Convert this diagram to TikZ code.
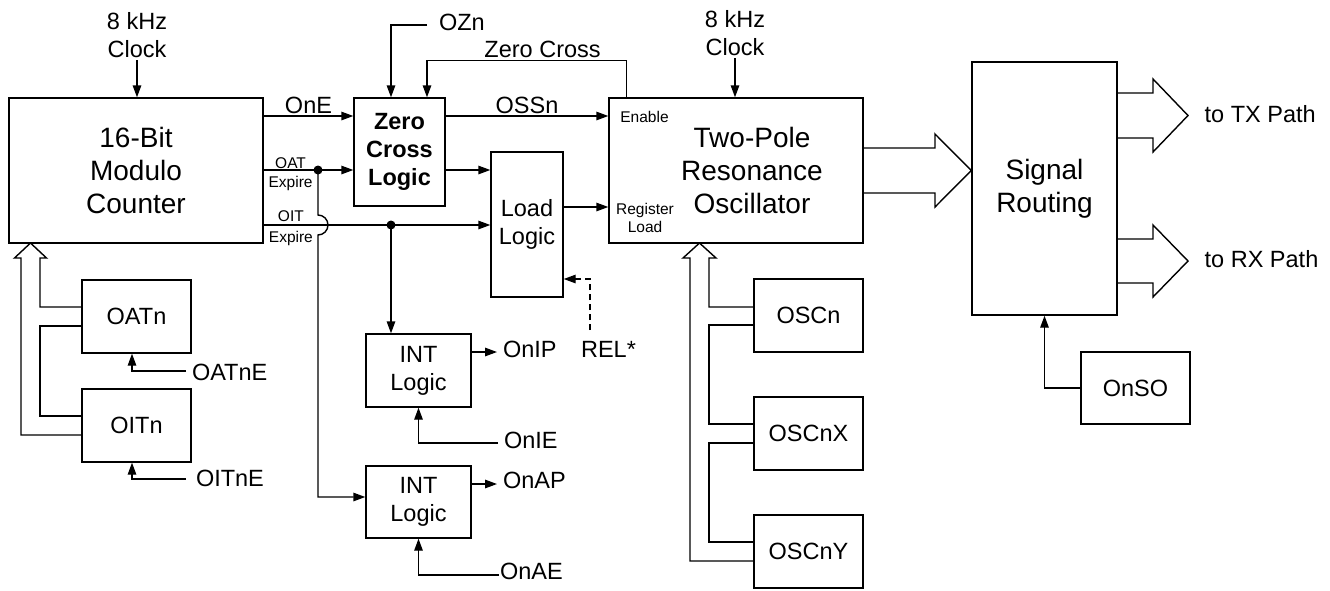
\documentclass[tikz,border=0pt]{standalone}
\usepackage{fontspec}
\setmainfont{Liberation Sans}
\usetikzlibrary{arrows.meta}

\newcommand{\blkbig}{\fontsize{28}{33}\selectfont}
\newcommand{\blkmed}{\fontsize{23.5}{28}\selectfont}
\newcommand{\blksmall}{\fontsize{15.5}{18.5}\selectfont}

\begin{document}
\begin{tikzpicture}[
        x=1pt, y=-1pt,
        line width=1.4pt,
        blk/.style={draw, rectangle, inner sep=0pt, align=center, font=\blkmed},
        bigtxt/.style={align=center, font=\blkbig},
        medtxt/.style={align=center, font=\blkmed, inner sep=2pt},
        smalltxt/.style={align=center, font=\blksmall, inner sep=1pt},
        endlbl/.style={font=\blkmed, inner sep=0pt, outer sep=6pt, anchor=west},
        sig/.style={-{Triangle[length=12pt,width=8.5pt]}},
        bus/.style={line join=miter},
        dot/.style={circle, fill, inner sep=0pt, minimum size=9pt},
    ]
    \useasboundingbox (0,0) rectangle (1330,590);

    \node[blk, minimum width=254pt, minimum height=145pt, font=\blkbig] (counter) at (136,170.5) {16-Bit\\Modulo\\Counter};
    \node[blk, minimum width=91pt, minimum height=108pt, font=\blkmed\bfseries] (zc) at (399.5,152) {Zero\\Cross\\Logic};
    \node[blk, minimum width=72pt, minimum height=145pt] (load) at (527,224.5) {Load\\Logic};
    \node[blk, minimum width=254pt, minimum height=145pt] (osc) at (736,170.5) {};
    \node[bigtxt] (osctxt) at (752,170) {Two-Pole\\Resonance\\Oscillator};
    \node[blk, minimum width=145pt, minimum height=253pt, font=\blkbig] (sr) at (1044.5,188.5) {Signal\\Routing};
    \node[blk, minimum width=109pt, minimum height=72pt] (onso) at (1135.5,388) {OnSO};
    \node[blk, minimum width=109pt, minimum height=73pt] (oatn) at (136.5,316.5) {OATn};
    \node[blk, minimum width=109pt, minimum height=73pt] (oitn) at (136.5,425.5) {OITn};
    \node[blk, minimum width=105pt, minimum height=73pt] (int1) at (418.5,370.5) {INT\\Logic};
    \node[blk, minimum width=105pt, minimum height=72pt] (int2) at (418.5,502) {INT\\Logic};
    \foreach \nm/\txt/\yy in {oscn/OSCn/315.5, oscnx/OSCnX/433.5, oscny/OSCnY/551.5}
        \node[blk, minimum width=109pt, minimum height=73pt] (\nm) at (808.5,\yy) {\txt};

    \node[smalltxt] (en) at (644.5,117) {Enable};
    \node[smalltxt] (regld) at (645,218) {Register\\Load};

    % clocks
    \node[medtxt, anchor=south] (clk1) at (137,60) {8 kHz\\Clock};
    \node[medtxt, anchor=south] (clk2) at (735,58) {8 kHz\\Clock};
    \draw[sig] (clk1.south) -- (clk1.south |- counter.north);
    \draw[sig] (clk2.south) -- (clk2.south |- osc.north);

    % counter outputs
    \draw[sig] (counter.east |- 0,116) -- node[medtxt, above] {OnE} (zc.west |- 0,116);
    \draw[sig] (counter.east |- 0,170) -- node[smalltxt, pos=.3, above] {OAT}
        node[smalltxt, pos=.3, below=5pt] {Expire} (zc.west |- 0,170);
    \draw[sig] (counter.east |- 0,225) -- node[smalltxt, pos=.12, above=2pt] {OIT}
        node[smalltxt, pos=.12, below=5pt] {Expire} (load.west |- 0,225);
    \node[dot] (oatdot) at (318,170) {};
    \node[dot] (oitdot) at (391,225) {};
    \draw[sig] (oitdot.center) -- (oitdot |- int1.north);
    \draw[sig] (oatdot.center) -- (oatdot |- 0,215) arc[start angle=90, end angle=-90, radius=10pt]
        -- (oatdot |- 0,497) -- (int2.west |- 0,497);

    % zero cross logic
    \node[endlbl, outer sep=12pt] (ozn) at (427,22) {OZn};
    \draw[sig] (ozn.west |- 0,25) -| ([xshift=-8.5pt]zc.north);
    \draw[sig] ([xshift=18pt]osc.north west) -- ++(0,-37)
        -| node[medtxt, above, pos=.21] {Zero Cross} ([xshift=27.5pt]zc.north);
    \draw[sig] (zc.east |- 0,116) -- node[medtxt, above] {OSSn} (osc.west |- 0,116);
    \draw[sig] (zc.east |- 0,170) -- (load.west |- 0,170);
    \draw[sig] (load.east |- 0,207) -- (osc.west |- 0,207);

    \node[medtxt] (rel) at (608.5,349) {REL*};
    \coordinate (relfoot) at (590,330);
    \draw[sig, dash pattern=on 6pt off 4pt] (relfoot) |- (load.east |- 0,279);

    % interrupts
    \node[endlbl] (onip) at (497,349) {OnIP};
    \draw[sig] (int1.east |- 0,352) -- (onip.west |- 0,352);
    \node[endlbl] (onie) at (498,440) {OnIE};
    \draw[sig] (onie.west |- 0,443) -| (int1.south);
    \node[endlbl] (onap) at (497,480) {OnAP};
    \draw[sig] (int2.east |- 0,484) -- (onap.west |- 0,484);
    \node[endlbl, outer sep=1pt] (onae) at (499,571) {OnAE};
    \draw[sig] (onae.west |- 0,575) -| (int2.south);

    % timer registers
    \node[endlbl] (oatne) at (186,372) {OATnE};
    \draw[sig] (oatne.west |- 0,371) -| ([xshift=-4.5pt]oatn.south);
    \node[endlbl, outer sep=10pt] (oitne) at (186,478) {OITnE};
    \draw[sig] (oitne.west |- 0,479) -| ([xshift=-4.5pt]oitn.south);
    \draw[bus] (oitn.west |- 0,435) -| (21,258) -- (14.5,258) -- (30.5,243) -- (46.5,258) -- (40,258)
        |- (oatn.west |- 0,307);
    \draw[bus] (oatn.west |- 0,326) -| (40,416) -- (oitn.west |- 0,416);

    % oscillator registers
    \draw[bus] (oscny.west |- 0,561) -| (690,258) -- (683,258) -- (699.5,243) -- (716,258) -- (709,258)
        |- (oscn.west |- 0,307);
    \draw[bus] (oscn.west |- 0,325) -| (709,424) -- (oscnx.west |- 0,424);
    \draw[bus] (oscnx.west |- 0,443) -| (709,542) -- (oscny.west |- 0,542);

    % routing
    \draw[bus] (osc.east |- 0,148) -- (935,148) -- (935,134) -- (sr.west |- 0,170.5) -- (935,207)
        -- (935,193) -- (osc.east |- 0,193);
    \draw[bus] (sr.east |- 0,93) -- (1153,93) -- (1153,79) -- (1188,115.5) -- (1153,152)
        -- (1153,138) -- (sr.east |- 0,138);
    \draw[bus] (sr.east |- 0,239) -- (1153,239) -- (1153,225) -- (1188,261) -- (1153,297)
        -- (1153,283) -- (sr.east |- 0,283);
    \node[medtxt, anchor=west] (tx) at (1202,114) {to TX Path};
    \node[medtxt, anchor=west] (rx) at (1202,259) {to RX Path};
    \draw[sig] (onso.west) -| (sr.south);

\end{tikzpicture}
\end{document}
